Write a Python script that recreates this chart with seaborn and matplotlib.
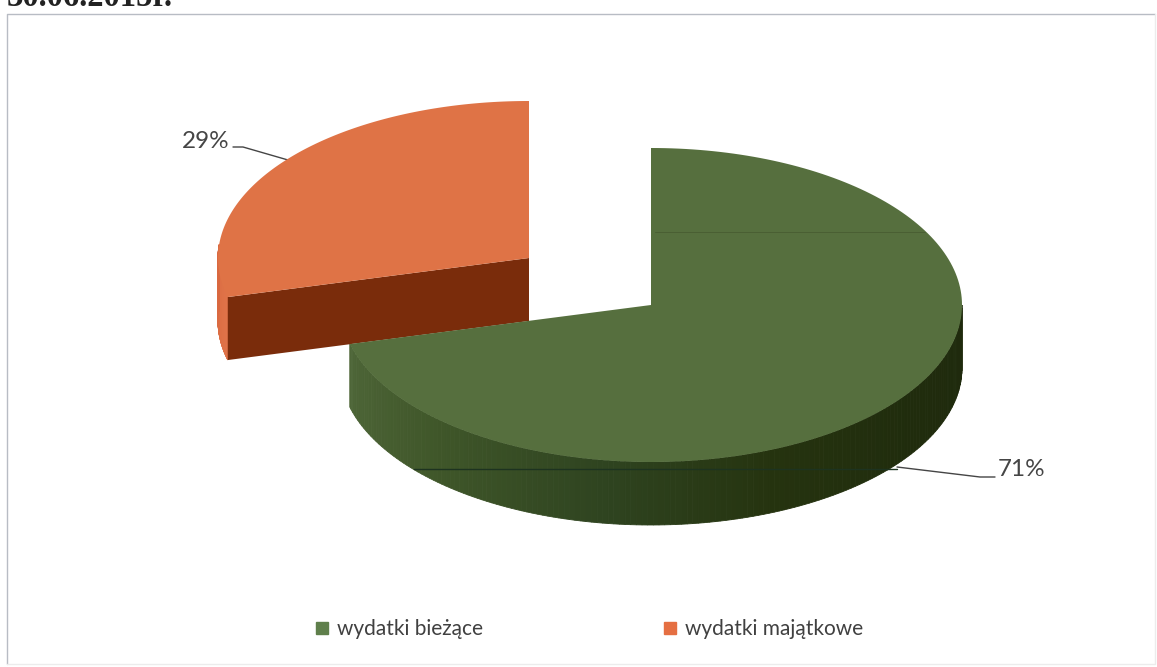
import numpy as np
import matplotlib
matplotlib.use("Agg")
import matplotlib.pyplot as plt
from matplotlib.patches import Polygon
from matplotlib.lines import Line2D
import seaborn as sns

# values
categories = ["wydatki bieżące", "wydatki majątkowe"]
shares = [71, 29]
labels = ["71%", "29%"]
title_fragment = "30.06.2015r."

top_colors = ["#566f3e", "#df7346"]
side_colors = [["#4e6638", "#3f5629", "#2f4420", "#25330f", "#202c0d", "#1f2a0d"],
               ["#e07449", "#d9683f"]]
legend_colors = ["#5f7f4b", "#e56f42"]
cut_color = "#7a2c0b"

sns.set_theme(style="white")
plt.rcParams["font.family"] = ["Lato", "DejaVu Sans"]

fig = plt.figure(figsize=(11.57, 6.67), dpi=100)
ax = fig.add_axes([0, 0, 1, 1])
ax.set_xlim(0, 1157)
ax.set_ylim(667, 0)
ax.axis("off")

RX, RY, DEPTH = 311, 157, 63
centers = [(651, 305), (529, 258)]


def rim(cx, cy, a):
    # a is degrees clockwise from 12 o'clock
    a = np.radians(a)
    return cx + RX * np.sin(a), cy - RY * np.cos(a)


def draw_side(cx, cy, a0, a1, colors):
    # the visible wall is cut into thin strips so the shading can run along it
    angles = np.linspace(a0, a1, 160)
    pal = sns.blend_palette(colors, len(angles) - 1)
    for i, col in enumerate(pal):
        x0, y0 = rim(cx, cy, angles[i])
        x1, y1 = rim(cx, cy, angles[i + 1])
        ax.add_patch(Polygon([(x0, y0), (x1, y1), (x1, y1 + DEPTH), (x0, y0 + DEPTH)],
                             fc=col, ec=col, lw=0.6, zorder=2))


def draw_top(cx, cy, a0, a1, color, z):
    angles = np.linspace(a0, a1, 200)
    xs, ys = rim(cx, cy, angles)
    pts = [(cx, cy)] + list(zip(xs, ys))
    ax.add_patch(Polygon(pts, fc=color, ec="none", zorder=z))


end_green = 360 * shares[0] / sum(shares)

# green slice, wall shaded from the left corner round to the right edge
cx, cy = centers[0]
draw_side(cx, cy, end_green, 90, side_colors[0])
draw_top(cx, cy, 0, end_green, top_colors[0], 3.5)

# orange slice, pulled out to the upper left
cx, cy = centers[1]
draw_side(cx, cy, end_green, 275, side_colors[1])
ex, ey = rim(cx, cy, end_green)
ax.add_patch(Polygon([(cx, cy), (ex, ey), (ex, ey + DEPTH), (cx, cy + DEPTH)],
                     fc=cut_color, ec="none", zorder=2.5))
draw_top(cx, cy, end_green, 360, top_colors[1], 3)

# scan lines that cross the green slice
ax.plot([655, 925], [232, 232], color="#4a5f33", lw=0.7, zorder=4)
ax.plot([414, 897], [469, 469], color="#1d3320", lw=1, zorder=4)

# data labels with leader lines
ax.text(1022, 470, labels[0], ha="center", va="center", fontsize=17.5, color="#454545")
ax.plot([897, 980, 995], [467, 477, 477], color="#454545", lw=1)
ax.text(206, 141, labels[1], ha="center", va="center", fontsize=17.5, color="#454545")
ax.plot([233, 243, 288], [147, 147, 160], color="#454545", lw=1)

# chart frame: top and left print darker than the other two sides
ax.plot([7, 7, 1155], [664, 14, 14], color="#b8bcc4", lw=1, zorder=1)
ax.plot([7, 1155, 1155], [664, 664, 14], color="#ececec", lw=1, zorder=1)

# clipped heading above the frame
ax.text(7, 6, title_fragment, ha="left", va="baseline", fontsize=23.5, fontweight="bold",
        family="Liberation Serif", color="#222222")

handles = [Line2D([], [], ls="", marker="s", ms=8.5, color=c) for c in legend_colors]
ax.legend(handles, categories, ncol=2, frameon=False, fontsize=15, labelcolor="#404040",
          loc="center", bbox_to_anchor=(588.5 / 1157, 1 - 629 / 667),
          columnspacing=8.6, handlelength=0.8, handletextpad=0.3)

fig.savefig("out.png", dpi=100)
